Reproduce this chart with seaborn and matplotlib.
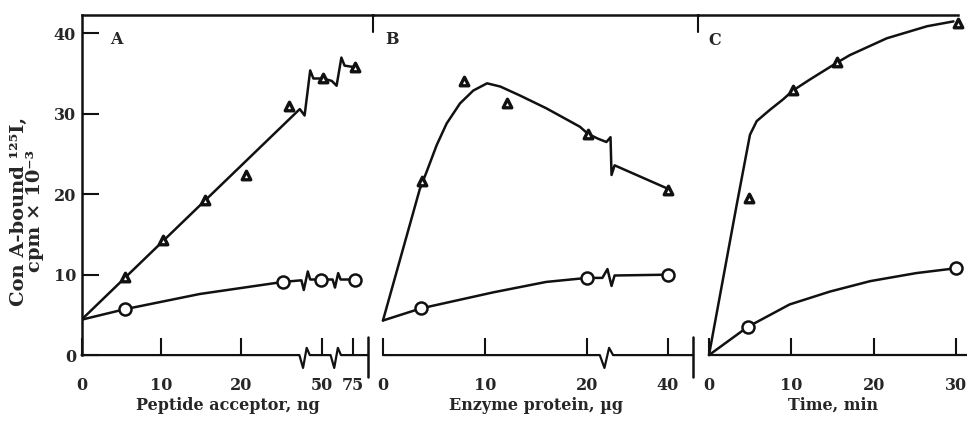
import matplotlib.pyplot as plt
import seaborn as sns

# Panel A: peptide acceptor (x drawn on a broken axis: 50 -> 30.1, 75 -> 33.9)
a_ticks = [0, 10, 20, 30.1, 33.9]
a_ticklabels = ['0', '10', '20', '50', '75']
a_tri_x = [5.5, 10.2, 15.5, 20.6, 25.9, 30.2, 34.2]
a_tri_y = [9.7, 14.3, 19.3, 22.4, 31.0, 34.4, 35.8]
a_circ_x = [5.4, 25.2, 30.0, 34.2]
a_circ_y = [5.7, 9.1, 9.4, 9.4]
a_tri_curve_x = [0, 27.3, 27.9, 28.6, 29.0, 30.2, 31.3, 31.9, 32.5, 32.9, 34.2]
a_tri_curve_y = [4.4, 30.6, 29.8, 35.4, 34.4, 34.4, 34.1, 33.5, 37.0, 36.0, 35.8]
a_circ_curve_x = [0, 5.4, 14.8, 25.2, 27.5, 27.8, 28.3, 28.6, 30.0, 31.4, 31.7, 32.1, 32.4, 34.2]
a_circ_curve_y = [4.4, 5.7, 7.6, 9.1, 9.3, 8.1, 10.4, 9.4, 9.4, 9.4, 8.4, 10.2, 9.4, 9.4]
a_breaks = [27.9, 31.8]

# Panel B: enzyme protein (40 drawn at 27.9 after the break)
b_ticks = [0, 10, 20, 27.9]
b_ticklabels = ['0', '10', '20', '40']
b_tri_x = [3.85, 7.9, 12.2, 20.1, 27.9]
b_tri_y = [21.7, 34.1, 31.3, 27.5, 20.5]
b_circ_x = [3.7, 20.0, 27.9]
b_circ_y = [5.8, 9.6, 10.0]
b_tri_curve_x = [0, 3.6, 4.28, 5.26, 6.24, 7.55, 8.85, 10.2, 11.5, 13.4, 16.0, 19.3, 20.1,
                 21.1, 21.9, 22.3, 22.4, 22.7, 27.9]
b_tri_curve_y = [4.3, 20.6, 22.8, 26.1, 28.8, 31.3, 32.9, 33.8, 33.4, 32.3, 30.7, 28.4, 27.5,
                 26.9, 26.5, 27.1, 22.4, 23.6, 20.7]
b_circ_curve_x = [0, 3.7, 10.8, 16.0, 20.0, 21.5, 22.0, 22.4, 22.7, 27.9]
b_circ_curve_y = [4.3, 5.8, 7.8, 9.1, 9.6, 9.6, 10.7, 8.6, 9.9, 10.0]
b_breaks = [21.9]

# Panel C: time
c_ticks = [0, 10, 20, 30]
c_ticklabels = ['0', '10', '20', '30']
c_tri_x = [4.9, 10.2, 15.6, 30.3]
c_tri_y = [19.5, 33.0, 36.5, 41.3]
c_circ_x = [4.7, 30.0]
c_circ_y = [3.5, 10.8]
c_tri_curve_x = [0, 3.37, 4.98, 5.8, 7.4, 9.0, 10.2, 12.3, 15.6, 17.1, 21.6, 26.5, 29.7]
c_tri_curve_y = [0, 18.7, 27.4, 29.1, 30.5, 31.8, 32.9, 34.3, 36.4, 37.3, 39.4, 40.9, 41.5]
c_circ_curve_x = [0, 4.7, 9.8, 14.7, 19.6, 25.2, 30.0]
c_circ_curve_y = [0, 3.5, 6.3, 7.9, 9.2, 10.2, 10.8]

y_ticks = [0, 10, 20, 30, 40]

sns.set_style('white')
plt.rcParams['font.family'] = ['DejaVu Serif']
plt.rcParams['font.weight'] = 'bold'

INK = '#111111'
YLIM = (-3.1, 42.3)

fig = plt.figure(figsize=(9.67, 4.22), dpi=100)
axA = fig.add_axes([0.0843, 0.0995, 0.3018, 0.865])
axB = fig.add_axes([0.3860, 0.0995, 0.3361, 0.865])
axC = fig.add_axes([0.7221, 0.0995, 0.2779, 0.865])


def axis_line(ax, x0, x1, breaks, w):
    # bottom axis drawn by hand so the break squiggles can sit in it
    xs, ys = [x0], [0]
    for b in breaks:
        xs += [b - w * 0.5, b - w * 0.15, b + w * 0.2, b + w * 0.5]
        ys += [0, -1.6, 0.9, 0]
    xs.append(x1)
    ys.append(0)
    ax.plot(xs, ys, color=INK, lw=1.6, clip_on=False)


def draw(ax, tcx, tcy, ccx, ccy, tx, ty, cx, cy):
    sns.lineplot(x=tcx, y=tcy, sort=False, estimator=None, color=INK, lw=1.8, ax=ax)
    sns.lineplot(x=ccx, y=ccy, sort=False, estimator=None, color=INK, lw=1.8, ax=ax)
    sns.scatterplot(x=tx, y=ty, marker='^', s=38, color='white', edgecolor=INK,
                    linewidth=2.4, zorder=4, ax=ax, clip_on=False)
    sns.scatterplot(x=cx, y=cy, marker='o', s=75, color='white', edgecolor=INK,
                    linewidth=1.8, zorder=4, ax=ax, clip_on=False)


draw(axA, a_tri_curve_x, a_tri_curve_y, a_circ_curve_x, a_circ_curve_y,
     a_tri_x, a_tri_y, a_circ_x, a_circ_y)
draw(axB, b_tri_curve_x, b_tri_curve_y, b_circ_curve_x, b_circ_curve_y,
     b_tri_x, b_tri_y, b_circ_x, b_circ_y)
draw(axC, c_tri_curve_x, c_tri_curve_y, c_circ_curve_x, c_circ_curve_y,
     c_tri_x, c_tri_y, c_circ_x, c_circ_y)

axA.set_xlim(0, 36.5)
axB.set_xlim(-0.95, 30.9)
axC.set_xlim(-1.3, 31.35)

for ax, ticks, labels in [(axA, a_ticks, a_ticklabels),
                          (axB, b_ticks, b_ticklabels),
                          (axC, c_ticks, c_ticklabels)]:
    ax.set_ylim(*YLIM)
    ax.set_xticks(ticks)
    ax.set_xticklabels(labels)
    for s in ['left', 'right', 'bottom', 'top']:
        ax.spines[s].set_visible(False)
    ax.spines['bottom'].set_position(('data', 0))
    ax.spines['top'].set_visible(True)
    ax.spines['top'].set_linewidth(1.8)
    ax.spines['top'].set_color(INK)
    ax.tick_params(axis='x', direction='in', length=12, width=1.5, color=INK,
                   pad=16, labelsize=11.5, bottom=True, top=False)
    ax.set_yticks([])
    ax.set_ylabel('')
    ax.patch.set_alpha(0)

# y axis of panel A
axA.spines['left'].set_visible(True)
axA.spines['left'].set_linewidth(1.8)
axA.spines['left'].set_color(INK)
axA.spines['left'].set_bounds(0, YLIM[1])
axA.set_yticks(y_ticks)
axA.tick_params(axis='y', direction='in', length=12, width=1.5, color=INK,
                pad=4, labelsize=11.5, left=True)
axC.spines['top'].set_bounds(-1.3, 30.2)

# hand drawn x axes with breaks and end bars
axis_line(axA, 0, 35.85, a_breaks, 1.3)
axA.plot([35.85, 35.85], [2.2, -2.7], color=INK, lw=1.8, clip_on=False)
axis_line(axB, 0, 30.4, b_breaks, 1.3)
axB.plot([30.4, 30.4], [2.2, -2.7], color=INK, lw=1.8, clip_on=False)
axis_line(axC, 0, 31.35, [], 1)

# small ticks hanging from the top frame at the panel joins
for ax in [axB, axC]:
    ax.plot([0, 0], [1, 0.953], transform=ax.transAxes, color=INK, lw=1.5, clip_on=False)

axA.set_xlabel('Peptide acceptor, ng', fontsize=11.5, fontweight='bold', labelpad=2)
axB.set_xlabel('Enzyme protein, µg', fontsize=11.5, fontweight='bold', labelpad=2)
axC.set_xlabel('Time, min', fontsize=11.5, fontweight='bold', labelpad=2)

axA.text(0.098, 0.934, 'A', transform=axA.transAxes, fontsize=11.5, va='center')
axB.text(0.036, 0.934, 'B', transform=axB.transAxes, fontsize=11.5, va='center')
axC.text(0.036, 0.93, 'C', transform=axC.transAxes, fontsize=11.5, va='center')

fig.text(0.028, 0.5, 'Con A-bound ¹²⁵I,\ncpm × 10⁻³', rotation=90, ha='center',
         va='center', multialignment='center', fontsize=14, fontweight='bold',
         linespacing=0.9)

fig.savefig('out.png', dpi=100)
